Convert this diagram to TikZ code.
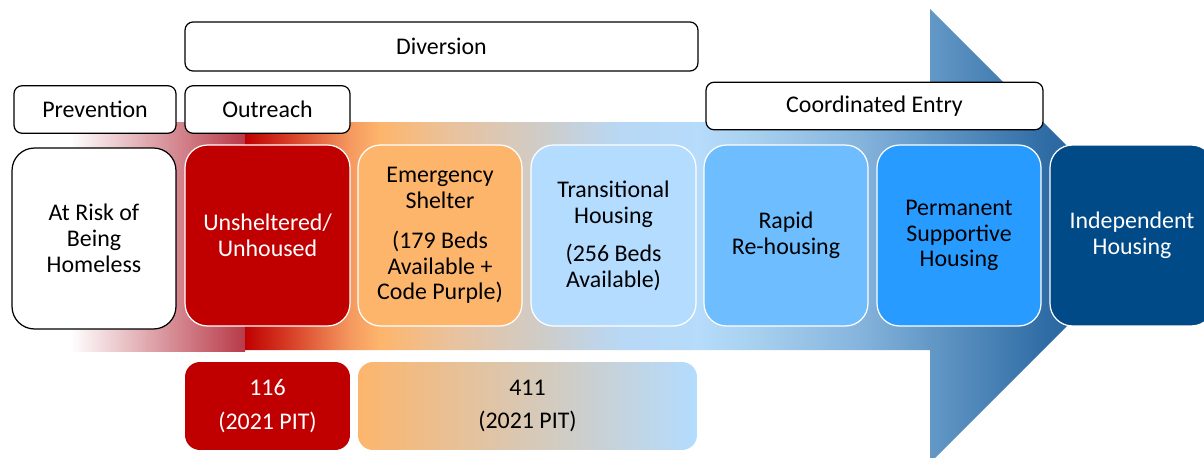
\documentclass[tikz,border=0pt]{standalone}
\usepackage{fontspec}
\setmainfont{Carlito}
\usepackage{tikz}
\usetikzlibrary{calc,positioning}
\definecolor{unRed}{HTML}{C00000}
\definecolor{fadeRed}{HTML}{B83A48}
\definecolor{esOrange}{HTML}{FDB56C}
\definecolor{thBlue}{HTML}{B3DCFF}
\definecolor{rrBlue}{HTML}{6DBDFF}
\definecolor{pshBlue}{HTML}{279BFF}
\definecolor{ihNavy}{HTML}{004A87}
\definecolor{arA}{HTML}{D84028}
\definecolor{arB}{HTML}{F59A60}
\definecolor{arC}{HTML}{EAC29C}
\definecolor{arD}{HTML}{CFCCC8}
\definecolor{arE}{HTML}{B8D8F5}
\definecolor{arF}{HTML}{B6DBFB}
\definecolor{arG}{HTML}{A6CFEE}
\definecolor{arH}{HTML}{85B4DC}
\definecolor{arI}{HTML}{6398C6}
\definecolor{arJ}{HTML}{2E6BA4}
\definecolor{arK}{HTML}{1D5890}
\pgfdeclarehorizontalshading{flowshade}{100bp}{color(0bp)=(unRed); color(25bp)=(unRed); color(27.5bp)=(arA); color(30.8bp)=(arB); color(32.4bp)=(esOrange); color(36.2bp)=(arC); color(41.2bp)=(arD); color(45.6bp)=(arE); color(49.9bp)=(arF); color(53.2bp)=(arG); color(58.7bp)=(arH); color(62.6bp)=(arI); color(69.1bp)=(arJ); color(75bp)=(arK); color(100bp)=(arK)}
\tikzset{%
	phase/.style = {draw, rectangle, fill=white, rounded corners=0.16cm, line width=0.7pt, minimum height=0.95cm, text centered, outer sep=0pt},
	stage/.style = {draw=white, rectangle, rounded corners=0.45cm, line width=0.7pt, minimum width=3.3cm, minimum height=3.62cm, align=center, outer sep=0pt},
	count/.style = {rectangle, rounded corners=0.3cm, minimum width=3.3cm, minimum height=1.76cm, align=center, outer sep=0pt},
}

\begin{document}
\begin{tikzpicture}[x=0.02cm,y=-0.02cm,font=\fontsize{13.6pt}{14.7pt}\selectfont]
		\useasboundingbox (0,0) rectangle (1204,457);
		
		% flow arrow
		\shade[left color=white, right color=fadeRed] (70,122) rectangle (245,351);
		\shade[shading=flowshade] (245,122) -- (930,122) -- (930,9) -- (1157,236) -- (930,463) -- (930,350) -- (245,350) -- cycle;
		
		% stages
		\node[stage, draw=black, fill=white, minimum width=3.28cm] (risk) at (94,238.5) {At Risk of\\Being\\Homeless};
		\node[stage, fill=unRed, text=white] (unsheltered) at (267.5,235.5) {Unsheltered/\\Unhoused};
		\node[stage, fill=esOrange, minimum width=3.28cm] (shelter) at (440,235.5) {Emergency\\Shelter\\[8pt](179 Beds\\Available +\\Code Purple)};
		\node[stage, fill=thBlue] (transitional) at (613.5,235.5) {Transitional\\Housing\\[7pt](256 Beds\\Available)};
		\node[stage, fill=rrBlue, minimum width=3.28cm] (rapid) at (786,235.5) {Rapid\\Re-housing};
		\node[stage, fill=pshBlue, minimum width=3.28cm] (supportive) at (959,235.5) {Permanent\\Supportive\\Housing};
		\node[stage, fill=ihNavy, text=white, minimum width=3.28cm] (independent) at (1132,235.5) {Independent\\Housing};
		
		% phases
		\node[phase, minimum width=10.26cm, minimum height=0.98cm] (diversion) at (441.5,46.5) {Diversion};
		\node[phase, minimum width=3.24cm] (prevention) at (95,109.5) {Prevention};
		\node[phase, minimum width=3.3cm] (outreach) at (267.5,109.5) {Outreach};
		\node[phase, minimum width=6.74cm] (entry) at (874.5,106) {Coordinated Entry};
		
		% point in time counts
		\node[count, fill=unRed, text=white] (pitUn) at (267.5,406) {116\\[4.6pt](2021 PIT)};
		\node[count, left color=esOrange, right color=thBlue, minimum width=6.78cm] (pitSh) at (527.5,406) {411\\[4.6pt](2021 PIT)};
\end{tikzpicture}
\end{document}
